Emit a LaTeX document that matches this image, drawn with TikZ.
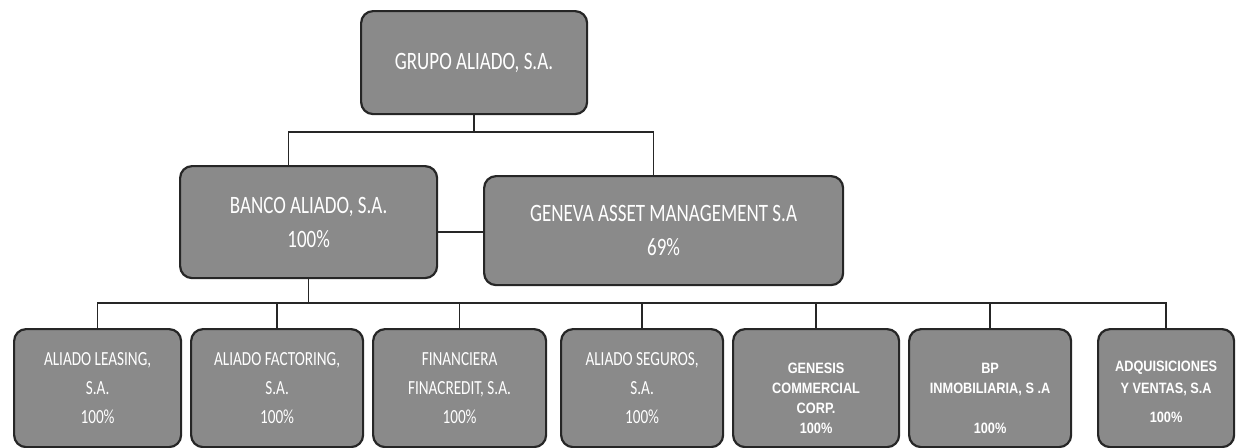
\documentclass[tikz,border=0pt]{standalone}
\usepackage{fontspec}
\newfontfamily\cf[FakeStretch=0.76]{Carlito}
\newfontfamily\af[FakeStretch=0.85]{Liberation Sans}
\definecolor{boxfill}{HTML}{8A8A8A}
\definecolor{boxline}{HTML}{262626}
\begin{document}
\begin{tikzpicture}[x=1pt,y=-1pt,
  orgbox/.style={draw=boxline, line width=2.2pt, fill=boxfill, rounded corners=12pt,
    text=white, align=center, inner sep=0pt, anchor=north west},
  bigtxt/.style={font=\cf\fontsize{25}{34}\selectfont},
  smalltxt/.style={font=\cf\fontsize{20}{29}\selectfont},
  arialtxt/.style={font=\af\bfseries\fontsize{15}{20}\selectfont, text=white, align=center},
  link/.style={draw=black!85, line width=1.6pt}]
\useasboundingbox (0,0) rectangle (1238,447);
% top levels
\node[orgbox, bigtxt, minimum width=226pt, minimum height=103pt] (grupo) at (360,10) {GRUPO ALIADO, S.A.};
\node[orgbox, bigtxt, minimum width=257pt, minimum height=112pt] (banco) at (179,165) {BANCO ALIADO, S.A.\\100\%};
\node[orgbox, bigtxt, minimum width=359pt, minimum height=109pt] (geneva) at (483,175) {GENEVA ASSET MANAGEMENT S.A\\69\%};
% bottom level
\node[orgbox, smalltxt, minimum width=167pt, minimum height=118pt] (b1) at (13,328) {ALIADO LEASING,\\S.A.\\100\%};
\node[orgbox, smalltxt, minimum width=172pt, minimum height=118pt] (b2) at (190,328) {ALIADO FACTORING,\\S.A.\\100\%};
\node[orgbox, smalltxt, minimum width=173pt, minimum height=118pt] (b3) at (372,328) {FINANCIERA\\FINACREDIT, S.A.\\100\%};
\node[orgbox, smalltxt, minimum width=162pt, minimum height=118pt] (b4) at (560,328) {ALIADO SEGUROS,\\S.A.\\100\%};
\node[orgbox, minimum width=166pt, minimum height=118pt] (b5) at (732,328) {};
\node[orgbox, minimum width=162pt, minimum height=118pt] (b6) at (908,328) {};
\node[orgbox, minimum width=136pt, minimum height=118pt] (b7) at (1097,328) {};
\node[arialtxt] (t5) at ([yshift=-10pt]b5.center) {GENESIS\\COMMERCIAL\\CORP.\\100\%};
\node[arialtxt] (t6) at ([yshift=-10pt]b6.center) {BP\\INMOBILIARIA, S .A\\[20pt]100\%};
\node[arialtxt] (t7) at ([yshift=-4pt]b7.center) {ADQUISICIONES\\[2pt]Y VENTAS, S.A\\[9pt]100\%};
% connectors
\coordinate (bus1) at (0,132);
\coordinate (mid) at (0,232);
\coordinate (bus2) at (0,303);
\draw[link] (grupo.south) -- (grupo.south |- bus1);
\draw[link] ([xshift=-20pt]banco.north) |- ([xshift=-10pt]geneva.north |- bus1) -- ([xshift=-10pt]geneva.north);
\draw[link] (banco.east |- mid) -- (geneva.west |- mid);
\draw[link] (banco.south) -- (banco.south |- bus2);
\draw[link] (b1.north) |- (b7.north |- bus2) -- (b7.north);
\foreach \n in {b2,b3,b4,b5,b6}{
  \draw[link] (\n.north) -- (\n.north |- bus2);
}
\end{tikzpicture}
\end{document}
